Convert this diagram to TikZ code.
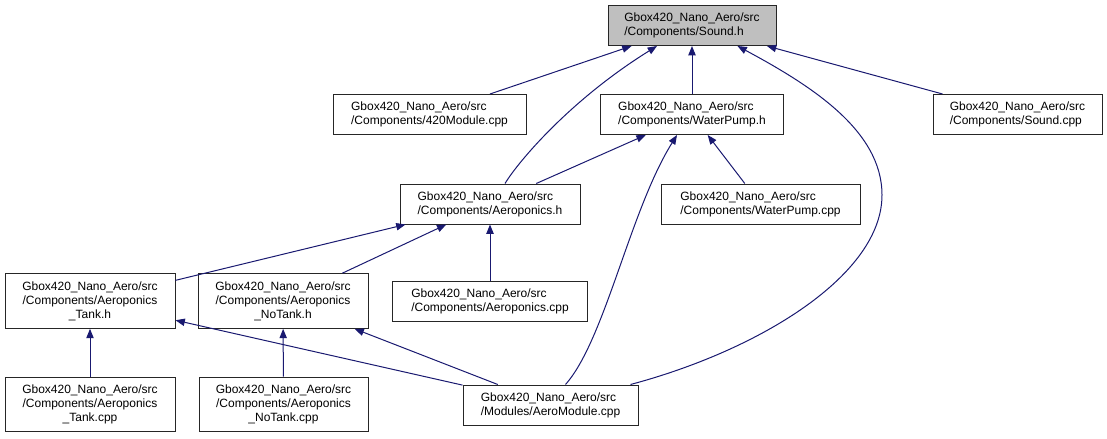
\documentclass[tikz,border=0pt]{standalone}
\usepackage{fontspec}
\setmainfont{Liberation Sans}
\usetikzlibrary{arrows.meta,calc}
\definecolor{edgeblue}{HTML}{191970}

\begin{document}
\begin{tikzpicture}[x=0.75pt,y=-0.75pt]
\tikzstyle{file} = [rectangle, draw=black!85, fill=white, line width=0.75pt, font=\fontsize{9}{10.5}\selectfont, align=left, inner sep=0pt, minimum height=30pt]
\tikzstyle{tall} = [minimum height=41pt, align=center]
\tikzstyle{arrow} = [draw=edgeblue, line width=0.75pt, -{Triangle[length=7pt,width=5.5pt]}]

\useasboundingbox (0,0) rectangle (1107,439);

\node (sound) [file, fill=black!25, minimum width=126pt] at (692,25.5) {Gbox420\_Nano\_Aero/src\\/Components/Sound.h};
\node (mod420) [file, minimum width=144.75pt] at (429.5,114.5) {Gbox420\_Nano\_Aero/src\\/Components/420Module.cpp};
\node (pumph) [file, minimum width=137.25pt] at (692,114.5) {Gbox420\_Nano\_Aero/src\\/Components/WaterPump.h};
\node (soundcpp) [file, minimum width=126.75pt] at (1017.5,114.5) {Gbox420\_Nano\_Aero/src\\/Components/Sound.cpp};
\node (aeroh) [file, minimum width=135pt] at (490,204) {Gbox420\_Nano\_Aero/src\\/Components/Aeroponics.h};
\node (pumpcpp) [file, minimum width=149.25pt] at (760.5,204) {Gbox420\_Nano\_Aero/src\\/Components/WaterPump.cpp};
\node (tankh) [file, tall, minimum width=127.5pt] at (90,301) {Gbox420\_Nano\_Aero/src\\/Components/Aeroponics\\\_Tank.h};
\node (notankh) [file, tall, minimum width=127.5pt] at (283,301) {Gbox420\_Nano\_Aero/src\\/Components/Aeroponics\\\_NoTank.h};
\node (aerocpp) [file, minimum width=146.25pt] at (490,301) {Gbox420\_Nano\_Aero/src\\/Components/Aeroponics.cpp};
\node (tankcpp) [file, tall, minimum width=127.5pt] at (90,404.5) {Gbox420\_Nano\_Aero/src\\/Components/Aeroponics\\\_Tank.cpp};
\node (notankcpp) [file, tall, minimum width=126.75pt] at (283.5,404.5) {Gbox420\_Nano\_Aero/src\\/Components/Aeroponics\\\_NoTank.cpp};
\node (aeromod) [file, minimum width=131.25pt] at (550.5,405) {Gbox420\_Nano\_Aero/src\\/Modules/AeroModule.cpp};

\draw [arrow] (mod420) -- (sound);
\draw [arrow] ($(aeroh.north)+(15,0)$) .. controls (518,162) and (570,100) .. ($(sound.south)+(-35,0)$);
\draw [arrow] (pumph) -- (sound);
\draw [arrow] (soundcpp) -- (sound);
\draw [arrow] ($(aeromod.north east)+(-8,0)$) .. controls (760,350) and (882,275) .. (882,195) .. controls (882,130) and (810,85) .. ($(sound.south east)+(-39,0)$);
\draw [arrow] (aeroh) -- (pumph);
\draw [arrow] (pumpcpp) -- (pumph);
\draw [arrow] ($(aeromod.north)+(15,0)$) .. controls (605,340) and (630,210) .. ($(pumph.south)+(-15,0)$);
\draw [arrow] (tankh) -- (aeroh);
\draw [arrow] (notankh) -- (aeroh);
\draw [arrow] (aerocpp) -- (aeroh);
\draw [arrow] (tankcpp) -- (tankh);
\draw [arrow] (aeromod) -- (tankh);
\draw [arrow] (notankcpp) -- (notankh);
\draw [arrow] (aeromod) -- (notankh);

\end{tikzpicture}
\end{document}
